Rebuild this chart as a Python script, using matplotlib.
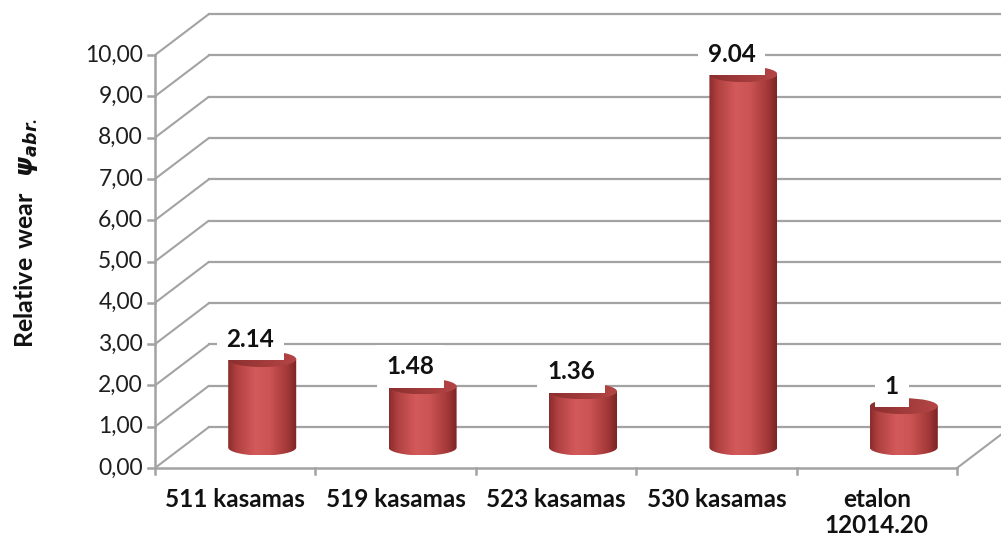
import numpy as np
import matplotlib
matplotlib.use('Agg')
import matplotlib.pyplot as plt
from matplotlib.patches import Ellipse, PathPatch
from matplotlib.path import Path
from matplotlib.colors import LinearSegmentedColormap

# ---------------- data ----------------
categories = ['511 kasamas', '519 kasamas', '523 kasamas', '530 kasamas', 'etalon\n12014.20']
values = [2.14, 1.48, 1.36, 9.04, 1]
value_labels = ['2.14', '1.48', '1.36', '9.04', '1']
yticks = [0, 1, 2, 3, 4, 5, 6, 7, 8, 9, 10]
ytick_labels = ['0,00', '1,00', '2,00', '3,00', '4,00', '5,00', '6,00', '7,00', '8,00', '9,00', '10,00']
ylabel = r'$\mathrm{Relative\ wear}\ \ \psi_{abr.}$'

# ---------------- style / layout ----------------
plt.rcParams['font.family'] = ['Lato', 'DejaVu Sans']
plt.rcParams['mathtext.fontset'] = 'custom'
plt.rcParams['mathtext.rm'] = 'Lato:bold'
plt.rcParams['mathtext.bf'] = 'Lato:bold'
plt.rcParams['mathtext.it'] = 'DejaVu Sans:bold:italic'

W, H = 1001, 544
X0_PX, CAT_PX = 155.0, 160.4      # pixel of x=0 and width of one category
Y0_PX, UNIT_PX = 468.0, 41.3      # pixel row of y=0 and pixels per unit
DX, DY = 54 / CAT_PX, 41 / UNIT_PX  # 3D depth offset in data units
GRID = '#a3a3a3'
BAR_W = 68 / CAT_PX
ELL_H = 16 / UNIT_PX

fig = plt.figure(figsize=(W / 100, H / 100), dpi=100)
ax = fig.add_axes([0, 0, 1, 1])
ax.axis('off')
xlim = (-X0_PX / CAT_PX, (W - X0_PX) / CAT_PX)
ylim = (-(H - Y0_PX) / UNIT_PX, Y0_PX / UNIT_PX)

n = len(categories)
ymax = yticks[-1]

# back wall / left wall gridlines
for v in yticks:
    ax.plot([0, DX], [v, v + DY], color=GRID, lw=1.5, zorder=1, solid_capstyle='butt')
    ax.plot([DX, xlim[1] + 1], [v + DY, v + DY], color=GRID, lw=1.6, zorder=1)
# floor right edge
ax.plot([n, n + DX], [0, DY], color=GRID, lw=1.5, zorder=1)
# front axes
ax.plot([0, 0], [0, ymax], color=GRID, lw=1.8, zorder=2)
ax.plot([0, n], [0, 0], color=GRID, lw=1.8, zorder=2)
# tick marks
for v in yticks:
    ax.plot([-7 / CAT_PX, 0], [v, v], color=GRID, lw=1.8, zorder=2)
for i in range(n + 1):
    ax.plot([i, i], [0, -6 / UNIT_PX], color=GRID, lw=1.8, zorder=2)

# tick labels
for v, lab in zip(yticks, ytick_labels):
    ax.text(-12 / CAT_PX, v, lab, ha='right', va='center', fontsize=16.5, color='#1e1e1e')
for i, lab in enumerate(categories):
    ax.text(i + 0.5, -20 / UNIT_PX, lab, ha='center', va='top', fontsize=17.5,
            fontweight='bold', color='#111111', linespacing=1.15)

ax.text(26 / CAT_PX + xlim[0], 5.7, ylabel, rotation=90, ha='center', va='center',
        fontsize=18, color='#111111')

# cylinder colours
body_cmap = LinearSegmentedColormap.from_list('body', [
    (0.0, '#8a2c2c'), (0.12, '#b04040'), (0.4, '#d45a5a'),
    (0.6, '#cc5454'), (0.88, '#a03636'), (1.0, '#7a2424')])
top_cmap = LinearSegmentedColormap.from_list('top', [
    (0.0, '#8a2e2e'), (0.5, '#a23b3b'), (1.0, '#b44545')])
grad = np.linspace(0, 1, 256).reshape(1, -1)

for i, (v, lab) in enumerate(zip(values, value_labels)):
    cx = i + 0.5 + DX / 2
    base = DY / 2
    top = base + v
    hw, eh = BAR_W / 2, ELL_H / 2
    t = np.linspace(np.pi, 2 * np.pi, 60)
    verts = [(cx - hw, top), (cx - hw, base)]
    verts += list(zip(cx + hw * np.cos(t), base + eh * np.sin(t)))
    verts += [(cx + hw, top), (cx - hw, top)]
    codes = [Path.MOVETO] + [Path.LINETO] * (len(verts) - 2) + [Path.CLOSEPOLY]
    body = PathPatch(Path(verts, codes), facecolor='none', edgecolor='none', zorder=3)
    ax.add_patch(body)
    im = ax.imshow(grad, extent=[cx - hw, cx + hw, base - eh, top], aspect='auto',
                   cmap=body_cmap, interpolation='bicubic', zorder=3, origin='lower')
    im.set_clip_path(body)
    cap = Ellipse((cx, top), BAR_W, ELL_H, facecolor='none', edgecolor='none', zorder=4)
    ax.add_patch(cap)
    im2 = ax.imshow(grad, extent=[cx - hw, cx + hw, top - eh, top + eh], aspect='auto',
                    cmap=top_cmap, interpolation='bicubic', zorder=4, origin='lower')
    im2.set_clip_path(cap)
    ax.text(cx - 12 / CAT_PX, top + 20 / UNIT_PX, lab, ha='center', va='center',
            fontsize=17.5, fontweight='bold', color='#111111', zorder=6,
            bbox=dict(boxstyle='square,pad=0.4', facecolor='white', edgecolor='none'))

ax.set_xlim(*xlim)
ax.set_ylim(*ylim)
fig.savefig('out.png', dpi=100, facecolor='white')
